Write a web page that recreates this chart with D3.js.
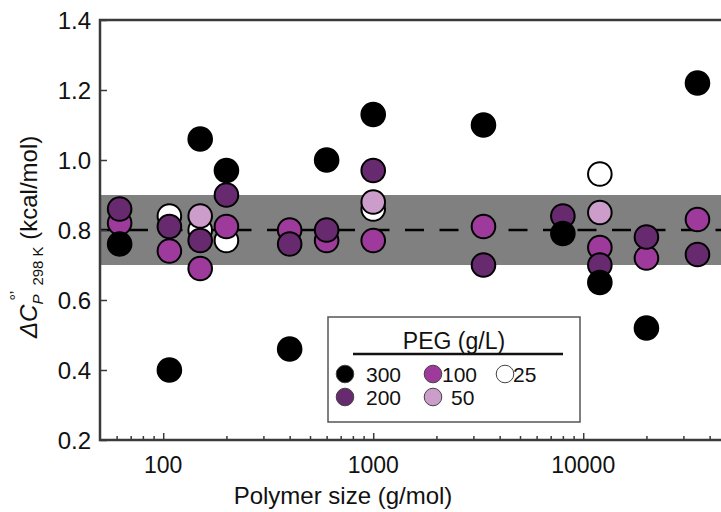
<!DOCTYPE html>
<html>
<head>
<meta charset="utf-8">
<script src="https://cdn.jsdelivr.net/npm/d3@7"></script>
<style>
    body { margin: 0; background: #fff; }
    svg { display: block; font-family: "Liberation Sans", Arial, sans-serif; }
</style>
</head>
<body>
<div id="chart"></div>
<script>
// Data
const sizes300 = [62, 107, 150, 200, 400, 600, 1000, 3350, 8000, 12000, 20000, 35000];
const values300 = [0.76, 0.40, 1.06, 0.97, 0.46, 1.00, 1.13, 1.10, 0.79, 0.65, 0.52, 1.22];
const sizes200 = [62, 107, 150, 200, 400, 600, 1000, 3350, 8000, 12000, 20000, 35000];
const values200 = [0.86, 0.81, 0.77, 0.90, 0.76, 0.80, 0.97, 0.70, 0.84, 0.70, 0.78, 0.73];
const sizes100 = [62, 107, 150, 200, 400, 600, 1000, 3350, 12000, 20000, 35000];
const values100 = [0.82, 0.74, 0.69, 0.81, 0.80, 0.77, 0.77, 0.81, 0.75, 0.72, 0.83];
const sizes50 = [150, 1000, 12000];
const values50 = [0.84, 0.88, 0.85];
const sizes25 = [107, 150, 200, 1000, 12000];
const values25 = [0.84, 0.80, 0.77, 0.86, 0.96];

const yTicks = [0.2, 0.4, 0.6, 0.8, 1.0, 1.2, 1.4];
const xTicks = [100, 1000, 10000];
const bandRange = [0.7, 0.9];
const meanValue = 0.8;

// series in drawing order (lowest concentration first, 300 on top)
const series = [
    {name: "25", color: "#ffffff", sizes: sizes25, values: values25},
    {name: "50", color: "#cc9ccb", sizes: sizes50, values: values50},
    {name: "100", color: "#9e3a9b", sizes: sizes100, values: values100},
    {name: "200", color: "#682a6e", sizes: sizes200, values: values200},
    {name: "300", color: "#000000", sizes: sizes300, values: values300}
];

const width = 721, height = 512;
const plotLeft = 100, plotTop = 20, plotBottom = 440, plotRight = 730;

const svg = d3.select("#chart").append("svg")
    .attr("width", width)
    .attr("height", height);

const x = d3.scaleLog().domain([50, 50000]).range([plotLeft, plotRight]);
const y = d3.scaleLinear().domain([0.2, 1.4]).range([plotBottom, plotTop]);

// grey band and dashed mean line
svg.append("rect")
    .attr("x", plotLeft)
    .attr("y", y(bandRange[1]))
    .attr("width", plotRight - plotLeft)
    .attr("height", y(bandRange[0]) - y(bandRange[1]))
    .attr("fill", "#808080");

svg.append("line")
    .attr("x1", plotLeft).attr("x2", plotRight)
    .attr("y1", y(meanValue)).attr("y2", y(meanValue))
    .attr("stroke", "#000")
    .attr("stroke-width", 2.5)
    .attr("stroke-dasharray", "19,15.5")
    .attr("stroke-dashoffset", 5.5);

// points
series.forEach(s => {
    svg.append("g").selectAll("circle")
        .data(s.sizes.map((d, i) => [d, s.values[i]]))
        .join("circle")
        .attr("cx", d => x(d[0]))
        .attr("cy", d => y(d[1]))
        .attr("r", 11.8)
        .attr("fill", s.color)
        .attr("stroke", "#000")
        .attr("stroke-width", 2);
});

// axes, ticks pointing inward
const axisColor = "#3a3a3a";

const yAxis = svg.append("g")
    .attr("transform", "translate(" + plotLeft + ",0)")
    .call(d3.axisRight(y).tickValues(yTicks).tickSize(7).tickFormat(""));
yAxis.select(".domain").remove();
yAxis.selectAll("line").attr("stroke", axisColor).attr("stroke-width", 1.5);

svg.append("g").selectAll("text")
    .data(yTicks)
    .join("text")
    .attr("x", 91)
    .attr("y", d => y(d) + 8.5)
    .attr("text-anchor", "end")
    .attr("font-size", 24)
    .attr("fill", "#111")
    .text(d => d.toFixed(1));

// minor ticks on the log axis
let minorTicks = [];
[10, 100, 1000, 10000].forEach(dec => {
    for (let k = 2; k <= 9; k++) {
        const v = dec * k;
        if (v > 50 && v < 50000) minorTicks.push(v);
    }
});
const xMinor = svg.append("g")
    .attr("transform", "translate(0," + plotBottom + ")")
    .call(d3.axisTop(x).tickValues(minorTicks).tickSize(4).tickFormat(""));
xMinor.select(".domain").remove();
xMinor.selectAll("line").attr("stroke", axisColor).attr("stroke-width", 1.5);

const xMajor = svg.append("g")
    .attr("transform", "translate(0," + plotBottom + ")")
    .call(d3.axisTop(x).tickValues(xTicks).tickSize(7).tickFormat(""));
xMajor.select(".domain").remove();
xMajor.selectAll("line").attr("stroke", axisColor).attr("stroke-width", 1.5);

svg.append("g").selectAll("text")
    .data(xTicks)
    .join("text")
    .attr("x", d => x(d))
    .attr("y", 473)
    .attr("text-anchor", "middle")
    .attr("font-size", 23)
    .attr("fill", "#111")
    .text(d => d);

// frame: left, bottom and top lines
svg.append("path")
    .attr("d", "M" + width + "," + plotTop + "H" + plotLeft + "V" + plotBottom + "H" + width)
    .attr("fill", "none")
    .attr("stroke", axisColor)
    .attr("stroke-width", 2.5);

// axis titles
svg.append("text")
    .attr("x", 343)
    .attr("y", 504)
    .attr("text-anchor", "middle")
    .attr("font-size", 24)
    .attr("fill", "#111")
    .text("Polymer size (g/mol)");

const yTitle = svg.append("text")
    .attr("transform", "translate(37,338) rotate(-90)")
    .attr("font-size", 24)
    .attr("fill", "#111");
yTitle.append("tspan").attr("font-style", "italic").text("ΔC");
yTitle.append("tspan").attr("font-style", "italic").attr("font-size", 15).attr("dy", 6).text("P");
yTitle.append("tspan").attr("font-size", 16).attr("dx", -6).attr("dy", -21).text("°’");
yTitle.append("tspan").attr("font-size", 15).attr("dx", 5).attr("dy", 21).text("298 K");
yTitle.append("tspan").attr("dy", -6).text(" (kcal/mol)");

// legend
const legend = svg.append("g");
legend.append("rect")
    .attr("x", 328).attr("y", 317)
    .attr("width", 252).attr("height", 105)
    .attr("fill", "#fff")
    .attr("stroke", "#555")
    .attr("stroke-width", 1.5);
legend.append("text")
    .attr("x", 454).attr("y", 349)
    .attr("text-anchor", "middle")
    .attr("font-size", 23)
    .attr("fill", "#111")
    .text("PEG (g/L)");
legend.append("line")
    .attr("x1", 353).attr("x2", 563)
    .attr("y1", 354).attr("y2", 354)
    .attr("stroke", "#111")
    .attr("stroke-width", 2.5);

const legendPos = {
    "300": [345, 374, 366], "200": [345, 397, 366],
    "100": [433, 374, 442], "50": [433, 397, 451],
    "25": [505, 374, 513]
};
series.forEach(s => {
    const p = legendPos[s.name];
    legend.append("circle")
        .attr("cx", p[0]).attr("cy", p[1])
        .attr("r", 8.8)
        .attr("fill", s.color)
        .attr("stroke", "#444")
        .attr("stroke-width", 1);
    legend.append("text")
        .attr("x", p[2]).attr("y", p[1] + 8)
        .attr("font-size", 21)
        .attr("fill", "#111")
        .text(s.name);
});
</script>
</body>
</html>
